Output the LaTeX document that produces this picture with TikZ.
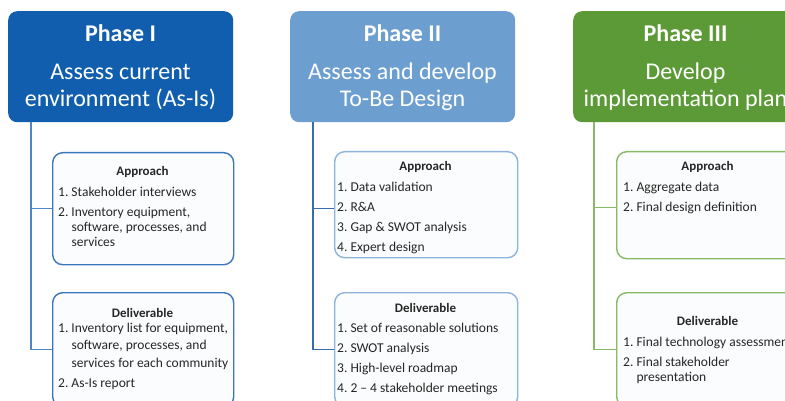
\documentclass[tikz,border=0pt]{standalone}
\usepackage{fontspec}
\setmainfont{Carlito}
\definecolor{cA}{HTML}{105EAD}
\definecolor{cAline}{HTML}{4F86C6}
\definecolor{cAborder}{HTML}{3B75BC}
\definecolor{cB}{HTML}{6C9FD0}
\definecolor{cBline}{HTML}{3A6AB0}
\definecolor{cBborder}{HTML}{8DB3DC}
\definecolor{cC}{HTML}{5B9A36}
\definecolor{cCline}{HTML}{86BA66}
\definecolor{cCborder}{HTML}{86BA66}
\definecolor{boxfill}{HTML}{FBFCFD}
\definecolor{txt}{HTML}{262626}
\tikzset{
  hdr/.style={rounded corners=9pt, minimum width=225pt, minimum height=111pt, inner sep=0pt, anchor=north west, draw=none},
  hdrtitle/.style={text=white, anchor=base, inner sep=0pt, font=\fontsize{24}{27}\selectfont\bfseries},
  hdrsub/.style={text=white, anchor=north, inner sep=0pt, align=center, font=\fontsize{24}{27}\selectfont},
  infobox/.style={rounded corners=10pt, fill=boxfill, line width=1.4pt, inner sep=0pt, anchor=north west},
  boxtitle/.style={text=txt, anchor=base, inner sep=0pt, font=\fontsize{13}{15}\selectfont\bfseries},
  items/.style={text=txt, anchor=north west, inner sep=0pt, align=left, font=\fontsize{13.5}{15}\selectfont},
  conn/.style={line width=1.4pt}
}
\newcommand{\ind}{\phantom{2.~}}
\begin{document}
\begin{tikzpicture}[x=1pt,y=-1pt]
\useasboundingbox (0,0) rectangle (785,401);
\clip (0,0) rectangle (785,401);
\fill[white] (0,0) rectangle (785,401);

% ---------- Phase I ----------
\node[hdr, fill=cA] (h1) at (8,11) {};
\node[hdrtitle] (h1t) at (120.5,42) {Phase I};
\node[hdrsub] (h1s) at (120.5,60.1) {\strut Assess current\\environment (As-Is)};
\node[infobox, draw=cAborder, minimum width=181pt, minimum height=112pt] (a1) at (52,152) {};
\node[infobox, draw=cAborder, minimum width=181pt, minimum height=114pt] (d1) at (52,292) {};
\coordinate (t1) at (31,122);
\draw[conn, cAline] (t1) |- (a1.west);
\draw[conn, cAline] (t1) |- (d1.west);
\node[boxtitle] (a1t) at (142.5,176) {Approach};
\node[items] (a1i) at (58,185.5) {\strut 1.~Stakeholder interviews\\[5pt]
2.~Inventory equipment,\\\ind software, processes, and\\\ind services};
\node[boxtitle] (d1t) at (142.5,317) {Deliverable};
\node[items] (d1i) at (58,321.5) {\strut 1.~Inventory list for equipment,\\[2.5pt]\ind software, processes, and\\[2.5pt]\ind services for each community\\[5pt]
2.~As-Is report};

% ---------- Phase II ----------
\node[hdr, fill=cB] (h2) at (290,11) {};
\node[hdrtitle] (h2t) at (402.5,42) {Phase II};
\node[hdrsub] (h2s) at (402.5,60.1) {\strut Assess and develop\\To-Be Design};
\node[infobox, draw=cBborder, minimum width=183pt, minimum height=106pt] (a2) at (334,151) {};
\node[infobox, draw=cBborder, minimum width=183pt, minimum height=114pt] (d2) at (334,292) {};
\coordinate (t2) at (313,122);
\draw[conn, cBline] (t2) |- ([yshift=-4pt]a2.west);
\draw[conn, cBline] (t2) |- (d2.west);
\node[boxtitle] (a2t) at (425.5,171) {Approach};
\node[items] (a2i) at (337,180.5) {\strut 1.~Data validation\\[5pt]
2.~R\&A\\[5pt]
3.~Gap \& SWOT analysis\\[5pt]
4.~Expert design};
\node[boxtitle] (d2t) at (425.5,312) {Deliverable};
\node[items] (d2i) at (337,321.5) {\strut 1.~Set of reasonable solutions\\[5pt]
2.~SWOT analysis\\[5pt]
3.~High-level roadmap\\[5pt]
4.~2 -- 4 stakeholder meetings};

% ---------- Phase III ----------
\node[hdr, fill=cC] (h3) at (573,11) {};
\node[hdrtitle] (h3t) at (685.5,42) {Phase III};
\node[hdrsub] (h3s) at (685.5,60.1) {\strut Develop\\implementation plan};
\node[infobox, draw=cCborder, minimum width=183pt, minimum height=107pt] (a3) at (616,151) {};
\node[infobox, draw=cCborder, minimum width=183pt, minimum height=114pt] (d3) at (616,292) {};
\coordinate (t3) at (594,122);
\draw[conn, cCline] (t3) |- ([yshift=-2.5pt]a3.west);
\draw[conn, cCline] (t3) |- (d3.west);
\node[boxtitle] (a3t) at (707.5,171) {Approach};
\node[items] (a3i) at (623,180.5) {\strut 1.~Aggregate data\\[5pt]
2.~Final design definition};
\node[boxtitle] (d3t) at (707.5,325) {Deliverable};
\node[items] (d3i) at (623,335.5) {\strut 1.~Final technology assessment\\[5pt]
2.~Final stakeholder\\\ind presentation};
\end{tikzpicture}
\end{document}
